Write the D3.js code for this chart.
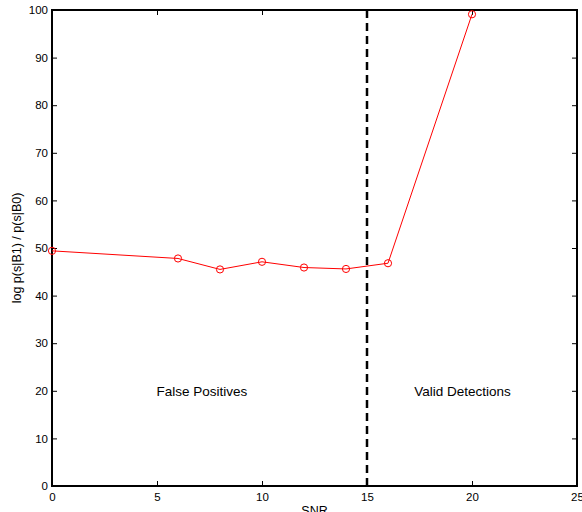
<!DOCTYPE html>
<html><head><meta charset="utf-8">
<script src="https://cdn.jsdelivr.net/npm/d3@7"></script>
<style>body{margin:0;background:#fff;} svg{display:block;font-family:"Liberation Sans",Arial,sans-serif;}</style>
</head><body>
<script>
const snr = [0, 6, 8, 10, 12, 14, 16, 20];
const logRatio = [49.4, 47.8, 45.5, 47.1, 45.9, 45.6, 46.8, 99.1];
const xTicks = [0, 5, 10, 15, 20, 25];
const yTicks = [0, 10, 20, 30, 40, 50, 60, 70, 80, 90, 100];
const threshold = 15;
const annotations = [{x: 7.14, y: 20, text: "False Positives"}, {x: 19.55, y: 20, text: "Valid Detections"}];

const W = 582, H = 512;
const m = {left: 52, right: 5, top: 10, bottom: 26};
const svg = d3.select("body").append("svg").attr("width", W).attr("height", H);
const x = d3.scaleLinear().domain([0, 25]).range([m.left, W - m.right]);
const y = d3.scaleLinear().domain([0, 100]).range([H - m.bottom, m.top]);

const tl = 5;
svg.append("g").attr("transform", `translate(0,${y(0)})`)
  .call(d3.axisBottom(x).tickValues(xTicks).tickSizeInner(-tl).tickSizeOuter(0).tickPadding(7))
  .call(g => g.select(".domain").remove());
svg.append("g").attr("transform", `translate(0,${y(100)})`)
  .call(d3.axisTop(x).tickValues(xTicks).tickSizeInner(-tl).tickSizeOuter(0).tickFormat(""))
  .call(g => g.select(".domain").remove());
svg.append("g").attr("transform", `translate(${x(0)},0)`)
  .call(d3.axisLeft(y).tickValues(yTicks).tickSizeInner(-tl).tickSizeOuter(0).tickPadding(4))
  .call(g => g.select(".domain").remove());
svg.append("g").attr("transform", `translate(${x(25)},0)`)
  .call(d3.axisRight(y).tickValues(yTicks).tickSizeInner(-tl).tickSizeOuter(0).tickFormat(""))
  .call(g => g.select(".domain").remove());
svg.selectAll(".tick line").attr("stroke", "#000").attr("stroke-width", 1);
svg.selectAll(".tick text").attr("font-size", 11.5).attr("fill", "#000").attr("font-family", "Liberation Sans, Arial, sans-serif");

svg.append("rect").attr("x", x(0)).attr("y", y(100)).attr("width", x(25) - x(0)).attr("height", y(0) - y(100))
  .attr("fill", "none").attr("stroke", "#000").attr("stroke-width", 2);

svg.append("line").attr("x1", x(threshold)).attr("x2", x(threshold)).attr("y1", y(100)).attr("y2", y(0))
  .attr("stroke", "#000").attr("stroke-width", 2.5).attr("stroke-dasharray", "8,5");

const data = snr.map((d, i) => ({x: d, y: logRatio[i]}));
svg.append("path").datum(data)
  .attr("d", d3.line().x(d => x(d.x)).y(d => y(d.y)))
  .attr("fill", "none").attr("stroke", "#ff0000").attr("stroke-width", 1);
svg.selectAll("circle.pt").data(data).join("circle")
  .attr("cx", d => x(d.x)).attr("cy", d => y(d.y)).attr("r", 3.6)
  .attr("fill", "none").attr("stroke", "#ff0000").attr("stroke-width", 1);

svg.selectAll("text.ann").data(annotations).join("text")
  .attr("x", d => x(d.x)).attr("y", d => y(d.y)).attr("dy", "0.35em")
  .attr("text-anchor", "middle").attr("font-size", 13.5).text(d => d.text);

svg.append("text").attr("x", (x(0) + x(25)) / 2).attr("y", 515).attr("text-anchor", "middle")
  .attr("font-size", 12.5).text("SNR");
svg.append("text").attr("transform", `translate(21,${(y(0) + y(100)) / 2}) rotate(-90)`)
  .attr("text-anchor", "middle").attr("font-size", 12.5).text("log p(s|B1) / p(s|B0)");
</script>
</body></html>
